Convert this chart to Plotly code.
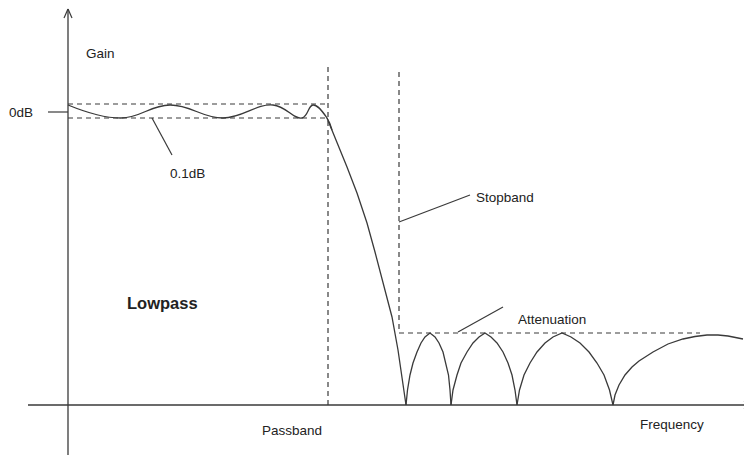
import plotly.graph_objects as go

# ---- data (arbitrary frequency / gain units; origin at the axes crossing) ----
# passband ripple (extrema)
ripple_freq = [0, 53, 102, 155, 205, 234, 245, 259, 264]
ripple_gain = [300, 287, 300, 287, 300, 287, 300, 287, 275]

# transition band
trans_freq = [259, 264, 269, 279, 289, 299, 307, 315, 324, 330, 335, 338]
trans_gain = [287, 275, 262, 238, 212, 182, 153, 122, 88, 55, 22, 0]

# stopband lobes (each lobe: zero -> peak -> zero)
lobe1_freq = [338, 339.5, 342, 345, 349, 353, 357, 362, 367, 371, 375, 378, 380.5, 382, 383]
lobe1_gain = [0, 15, 30, 42, 53, 62, 68, 72, 68, 62, 53, 42, 30, 15, 0]
lobe2_freq = [383, 385, 389, 393, 399, 405, 411, 417, 423, 429, 435, 440, 444, 447, 449]
lobe2_gain = [0, 15, 30, 42, 53, 62, 68, 72, 68, 62, 53, 42, 30, 15, 0]
lobe3_freq = [449, 451.5, 456, 462, 469, 477, 485, 494, 503, 512, 521, 529, 536, 541.5, 545]
lobe3_gain = [0, 15, 30, 42, 53, 62, 68, 72, 68, 62, 53, 42, 30, 15, 0]
lobe4_freq = [545, 547, 551, 557, 564, 571, 585, 600, 615, 627, 639, 650, 660, 675]
lobe4_gain = [0, 10, 20, 30, 38, 44, 53, 61, 66, 68.5, 70, 70, 69, 66]

# specification levels
ripple_hi = 301
ripple_lo = 287
zero_db = 293
pass_edge = 260
pass_top = 338
stop_edge = 331
stop_top = 333
atten = 72
atten_end = 632

# axis extents
x_min, x_max = -60, 684
y_min, y_max = -52, 397
xaxis_start, xaxis_end = -40, 683
yaxis_start, yaxis_end = -50, 396

LINE = "#3a3a3a"
TXT = "#222222"
FONT = "Liberation Sans, Arial, sans-serif"

fig = go.Figure()

fig.add_trace(go.Scatter(x=ripple_freq, y=ripple_gain, mode="lines",
                         line=dict(color=LINE, width=1.3, shape="spline", smoothing=1.2),
                         hoverinfo="skip", showlegend=False))
for f, g in [(trans_freq, trans_gain), (lobe1_freq, lobe1_gain), (lobe2_freq, lobe2_gain),
             (lobe3_freq, lobe3_gain), (lobe4_freq, lobe4_gain)]:
    fig.add_trace(go.Scatter(x=f, y=g, mode="lines",
                             line=dict(color=LINE, width=1.3, shape="linear"),
                             hoverinfo="skip", showlegend=False))

shapes = []
def line(x0, y0, x1, y1, dash=None, w=1.2):
    d = dict(type="line", xref="x", yref="y", x0=x0, y0=y0, x1=x1, y1=y1,
             line=dict(color=LINE, width=w))
    if dash:
        d["line"]["dash"] = dash
    shapes.append(d)

DASH = "5px,4px"
# passband spec
line(0, ripple_hi, pass_edge, ripple_hi, DASH)
line(0, ripple_lo, pass_edge, ripple_lo, DASH)
line(pass_edge, pass_top, pass_edge, 0, DASH)
# stopband spec
line(stop_edge, stop_top, stop_edge, atten, DASH)
line(stop_edge, atten, atten_end, atten, DASH)

# axes
line(xaxis_start, 0, xaxis_end, 0, w=1.3)
line(0, yaxis_start, 0, yaxis_end, w=1.3)
# arrowheads
line(-4, yaxis_end - 9, 0, yaxis_end, w=1.2)
line(4, yaxis_end - 9, 0, yaxis_end, w=1.2)
line(xaxis_end - 7, 4, xaxis_end, 0, w=1.2)
line(xaxis_end - 7, -4, xaxis_end, 0, w=1.2)
# 0dB tick
line(-20, zero_db, 0, zero_db, w=1.2)
# leaders
line(84, ripple_lo, 104, 250)
line(stop_edge, 183, 402, 210)
line(390, atten + 1, 435, 98)

fig.update_layout(shapes=shapes)

def text(x, y, s, size=13.5, bold=False, xanchor="center"):
    fig.add_annotation(x=x, y=y, text=f"<b>{s}</b>" if bold else s, showarrow=False,
                       xanchor=xanchor, yanchor="middle", xref="x", yref="y",
                       font=dict(family=FONT, size=size, color=TXT))

text(32, 352, "Gain")
text(-47, 293, "0dB")
text(119, 232, "0.1dB")
text(406, 208, "Stopband", xanchor="left")
text(484, 86, "Attenuation")
text(94, 102, "Lowpass", size=16.5, bold=True)
text(224, -25, "Passband")
text(604, -19, "Frequency")

fig.update_layout(
    width=744, height=449,
    margin=dict(l=0, r=0, t=0, b=0),
    paper_bgcolor="white", plot_bgcolor="white",
    xaxis=dict(range=[x_min, x_max], visible=False, fixedrange=True),
    yaxis=dict(range=[y_min, y_max], visible=False, fixedrange=True),
    showlegend=False,
)

fig.write_html("out.html")
